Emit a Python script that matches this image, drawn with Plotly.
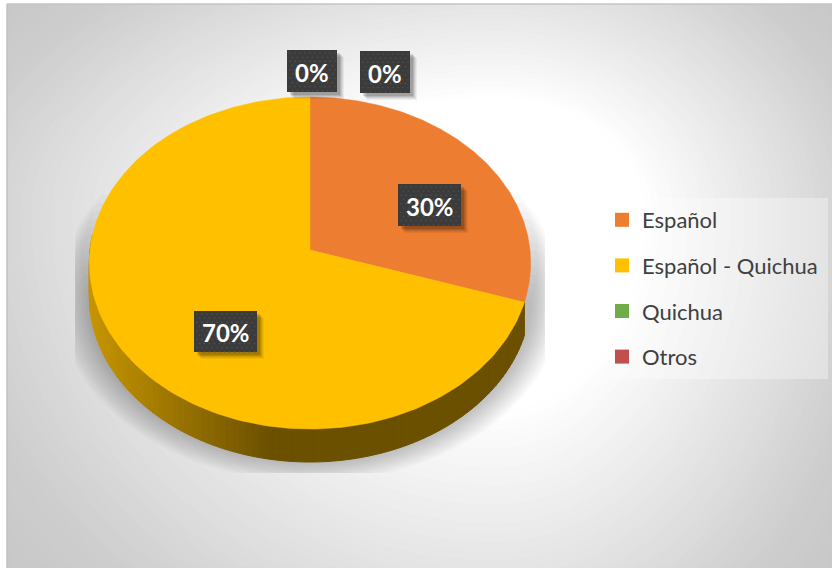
import numpy as np
import plotly.graph_objects as go

categories = ["Español", "Español - Quichua", "Quichua", "Otros"]
values = [30, 70, 0, 0]
slice_colors = ["#ED7D31", "#FFC000", "#70AD47", "#C0504D"]

W, H = 832, 568
# pie projection
CX, CY, A, B, K, DEPTH = 310, 250, 220, 165, 0.0783, 33


def project(theta):
    u, v = np.sin(theta), -np.cos(theta)
    w = 1 - K * v
    return CX + A * u / w, CY + B * v / w


def shade(col, f):
    c = [int(col[i:i + 2], 16) for i in (1, 3, 5)]
    return "rgb(%d,%d,%d)" % tuple(int(x * f) for x in c)


fig = go.Figure()
shapes = []

# background: stretched radial gradient
GX, GY = 495, 215
LEFT, TOP, RIGHT, BOTTOM = 7, 4, W, H
stops_t = [1.0, 0.8, 0.32, 0.0]
stops_c = [196, 206, 255, 255]
YSTRETCH = 1.25
shapes.append(dict(type="rect", xref="x", yref="y", x0=LEFT, x1=RIGHT, y0=TOP, y1=BOTTOM,
                   fillcolor="rgb(196,196,196)", line_width=0, layer="below"))
for t in np.linspace(1.0, 0.3, 48):
    g = int(np.interp(t, stops_t[::-1], stops_c[::-1]))
    s = t * 1.4142
    th = np.linspace(0, 2 * np.pi, 121)
    ex = GX + np.cos(th) * s * np.where(np.cos(th) < 0, GX - LEFT, RIGHT - GX)
    ey = GY + np.sin(th) * s * YSTRETCH * np.where(np.sin(th) < 0, GY - TOP, BOTTOM - GY)
    fig.add_trace(go.Scatter(x=np.clip(ex, LEFT, RIGHT), y=np.clip(ey, TOP, BOTTOM), mode="lines",
                             fill="toself", fillcolor=f"rgb({g},{g},{g})", line_width=0,
                             hoverinfo="skip", showlegend=False))

# soft shadow behind the pie, fading towards its upper end
th = np.linspace(0, 2 * np.pi, 181)
for k, grow in enumerate(np.linspace(30, 0, 14)):
    sx = 310 + (222 + grow) * np.sin(th)
    sy = 298 + (160 + grow * 0.8) * -np.cos(th)
    fig.add_trace(go.Scatter(x=np.clip(sx, 75, 545), y=np.clip(sy, 195 + k * 8, 473), mode="lines",
                             fill="toself", fillcolor="rgba(0,0,0,0.018)", line_width=0,
                             hoverinfo="skip", showlegend=False))

# slices: side wall then top face
fracs = np.array(values, dtype=float) / sum(values)
edges = np.concatenate([[0], np.cumsum(fracs)]) * 2 * np.pi
for i, col in enumerate(slice_colors):
    a0, a1 = edges[i], edges[i + 1]
    if a1 <= a0:
        continue
    lo, hi = max(a0, np.pi * 0.6), min(a1, np.pi * 1.53)
    if hi > lo:
        n = max(2, int((hi - lo) / np.pi * 110))
        grid = np.linspace(lo, hi, n)
        for g0, g1 in zip(grid[:-1], grid[1:]):
            x0, y0 = project(g0)
            x1, y1 = project(g1)
            f = np.interp((x0 + x1) / 2, [90, 150, 270], [0.78, 0.66, 0.42])
            c = shade(col, f)
            fig.add_trace(go.Scatter(x=[x0, x1, x1, x0, x0], y=[y0, y1, y1 + DEPTH, y0 + DEPTH, y0],
                                     mode="lines", fill="toself", fillcolor=c,
                                     line=dict(color=c, width=1), hoverinfo="skip", showlegend=False))
for i, col in enumerate(slice_colors):
    a0, a1 = edges[i], edges[i + 1]
    if a1 <= a0:
        continue
    t = np.linspace(a0, a1, 200)
    px, py = project(t)
    fig.add_trace(go.Scatter(x=np.r_[CX, px, CX], y=np.r_[CY, py, CY], mode="lines", fill="toself",
                             fillcolor=col, line=dict(color=col, width=0.5),
                             hoverinfo="skip", showlegend=False))

# legend panel
LEG = (610, 198, 828, 379)
lx = [LEG[0], LEG[2], LEG[2], LEG[0], LEG[0]]
ly = [LEG[1], LEG[1], LEG[3], LEG[3], LEG[1]]
fig.add_trace(go.Scatter(x=lx, y=ly, mode="lines", fill="toself", fillcolor="rgba(255,255,255,0.32)",
                         line_width=0, hoverinfo="skip", showlegend=False))

# data label boxes (category order: Español, Español - Quichua, Quichua, Otros)
label_boxes = [(398, 184, 461, 226), (194, 311, 257, 352), (287, 50, 337, 92), (360, 51, 410, 93)]
annotations = []
dx_all, dy_all = [], []
for (x0, y0, x1, y1), v in zip(label_boxes, values):
    for off, alpha in [(7, .05), (6, .06), (5, .08), (4, .10), (3, .12)]:
        fig.add_trace(go.Scatter(x=[x0 + off, x1 + off, x1 + off, x0 + off, x0 + off],
                                 y=[y0 + off, y0 + off, y1 + off, y1 + off, y0 + off],
                                 mode="lines", fill="toself", fillcolor=f"rgba(0,0,0,{alpha})",
                                 line_width=0, hoverinfo="skip", showlegend=False))
    fig.add_trace(go.Scatter(x=[x0, x1, x1, x0, x0], y=[y0, y0, y1, y1, y0], mode="lines", fill="toself",
                             fillcolor="#3B3B3B", line_width=0, hoverinfo="skip", showlegend=False))
    for j, yy in enumerate(np.arange(y0 + 3, y1, 4.2)):
        for xx in np.arange(x0 + 3 + (j % 2) * 2.5, x1 - 1, 5.0):
            dx_all.append(xx)
            dy_all.append(yy)
    annotations.append(dict(x=(x0 + x1) / 2, y=(y0 + y1) / 2 + 1, xref="x", yref="y", text=f"{v}%",
                            showarrow=False, font=dict(family="Lato", size=24, color="white", weight="bold")))
fig.add_trace(go.Scatter(x=dx_all, y=dy_all, mode="markers", marker=dict(size=1.6, color="#505050"),
                         hoverinfo="skip", showlegend=False))

# cut-off text fragment above the chart
annotations.append(dict(x=279, y=-6, xref="x", yref="y", text="p", showarrow=False, yanchor="middle",
                        font=dict(family="Liberation Serif", size=16, color="black")))

# legend entries
for i, (name, col) in enumerate(zip(categories, slice_colors)):
    fig.add_trace(go.Scatter(x=[None], y=[None], mode="markers", name=name, legendgroup=name,
                             marker=dict(symbol="square", size=14, color=col)))

shapes.append(dict(type="line", xref="x", yref="y", x0=LEFT, x1=RIGHT, y0=4, y1=4,
                   line=dict(color="#C4C4C4", width=1.5), layer="above"))
shapes.append(dict(type="line", xref="x", yref="y", x0=LEFT, x1=LEFT, y0=4, y1=H,
                   line=dict(color="#C0C0C0", width=1.5), layer="above"))

fig.update_layout(
    width=W, height=H, margin=dict(l=0, r=0, t=0, b=0), paper_bgcolor="white", plot_bgcolor="white",
    xaxis=dict(range=[0, W], visible=False, fixedrange=True),
    yaxis=dict(range=[H, 0], visible=False, fixedrange=True),
    shapes=shapes, annotations=annotations, hovermode=False,
    legend=dict(x=602 / W, y=1 - 199 / H, xanchor="left", yanchor="top", bgcolor="rgba(0,0,0,0)",
                font=dict(family="Lato", size=22, color="#404040"), tracegroupgap=14,
                itemwidth=30, traceorder="grouped"),
)
fig.write_html("out.html", config={"displayModeBar": False},
               post_script="document.body.style.margin='0';document.body.style.overflow='hidden';")
